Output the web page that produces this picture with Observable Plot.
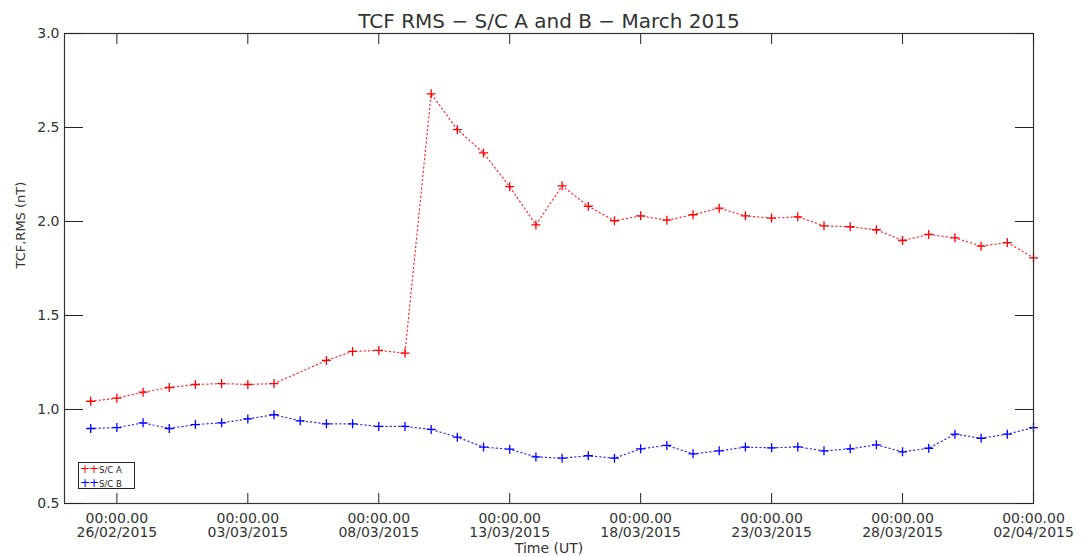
<!DOCTYPE html>
<html>
<head>
<meta charset="utf-8">
<script src="https://cdn.jsdelivr.net/npm/d3@7"></script>
<script src="https://cdn.jsdelivr.net/npm/@observablehq/plot@0.6"></script>
<style>
  html, body { margin: 0; padding: 0; background: #fff; }
  #wrap { position: relative; width: 1090px; height: 556px; }
  #legend {
    position: absolute; left: 78px; top: 462px; width: 57px; height: 27px;
    border: 1px solid #222; background: #fff;
    font: 8.5px "DejaVu Sans", sans-serif; color: #222; line-height: 13px;
    padding-left: 1px; box-sizing: border-box;
  }
  #legend .m { letter-spacing: -1px; font-size: 12px; margin-right: 1px; }
</style>
</head>
<body>
<div id="wrap">
  <div id="chart"></div>
  <div id="legend">
    <div><span class="m" style="color:#ff0000">++</span>S/C A</div>
    <div><span class="m" style="color:#0000ff">++</span>S/C B</div>
  </div>
</div>
<script>
// Daily TCF RMS values (nT), 25 Feb – 2 Apr 2015
const days = [
  "2015-02-25","2015-02-26","2015-02-27","2015-02-28","2015-03-01","2015-03-02","2015-03-03",
  "2015-03-04","2015-03-05","2015-03-06","2015-03-07","2015-03-08","2015-03-09","2015-03-10",
  "2015-03-11","2015-03-12","2015-03-13","2015-03-14","2015-03-15","2015-03-16","2015-03-17",
  "2015-03-18","2015-03-19","2015-03-20","2015-03-21","2015-03-22","2015-03-23","2015-03-24",
  "2015-03-25","2015-03-26","2015-03-27","2015-03-28","2015-03-29","2015-03-30","2015-03-31",
  "2015-04-01","2015-04-02"
];
// S/C A has no value on 5 March
const scA = [
  1.044, 1.060, 1.092, 1.117, 1.133, 1.138, 1.133,
  1.138, null,  1.261, 1.309, 1.314, 1.300, 2.679,
  2.489, 2.365, 2.185, 1.982, 2.190, 2.081, 2.004,
  2.030, 2.007, 2.036, 2.071, 2.030, 2.018, 2.025,
  1.977, 1.972, 1.956, 1.899, 1.931, 1.913, 1.869,
  1.888, 1.807
];
const scB = [
  0.899, 0.904, 0.929, 0.899, 0.920, 0.929, 0.950,
  0.972, 0.940, 0.924, 0.924, 0.910, 0.910, 0.894,
  0.853, 0.800, 0.789, 0.748, 0.741, 0.754, 0.741,
  0.791, 0.809, 0.764, 0.780, 0.800, 0.796, 0.801,
  0.780, 0.791, 0.812, 0.775, 0.794, 0.869, 0.847,
  0.869, 0.904
];
const xTickDays = ["2015-02-26","2015-03-03","2015-03-08","2015-03-13","2015-03-18","2015-03-23","2015-03-28","2015-04-02"];
const yTicks = [0.5, 1.0, 1.5, 2.0, 2.5, 3.0];
const xDomain = ["2015-02-24", "2015-04-02"];

const seriesA = days.map((d, i) => ({date: new Date(d), v: scA[i]})).filter(r => r.v != null);
const seriesB = days.map((d, i) => ({date: new Date(d), v: scB[i]}));

// "+" marker drawn as two strokes
const plus = {
  draw(ctx, size) {
    const r = Math.sqrt(size / Math.PI);
    ctx.moveTo(-r, 0); ctx.lineTo(r, 0);
    ctx.moveTo(0, -r); ctx.lineTo(0, r);
  }
};

const pad = n => String(n).padStart(2, "0");
const fmtDay = d => `00:00.00\n${pad(d.getUTCDate())}/${pad(d.getUTCMonth() + 1)}/${d.getUTCFullYear()}`;
const font = "DejaVu Sans, sans-serif";

const chart = Plot.plot({
  width: 1090,
  height: 556,
  marginTop: 33,
  marginBottom: 53,
  marginLeft: 64,
  marginRight: 57,
  style: {fontFamily: font, fontSize: "14px", color: "#222", background: "#fff"},
  x: {type: "utc", domain: xDomain.map(d => new Date(d))},
  y: {domain: [0.5, 3.0]},
  marks: [
    Plot.line(seriesA, {x: "date", y: "v", stroke: "#ff0000", strokeWidth: 1.2, strokeDasharray: "1.2,3", strokeOpacity: 0.85}),
    Plot.line(seriesB, {x: "date", y: "v", stroke: "#0000ff", strokeWidth: 1.2, strokeDasharray: "1.2,3", strokeOpacity: 0.85}),
    Plot.dot(seriesA, {x: "date", y: "v", symbol: plus, r: 4.5, stroke: "#ff0000", fill: "none", strokeWidth: 1.3}),
    Plot.dot(seriesB, {x: "date", y: "v", symbol: plus, r: 4.5, stroke: "#0000ff", fill: "none", strokeWidth: 1.3}),
    Plot.frame({stroke: "#333", strokeWidth: 1.2}),
    Plot.axisX({anchor: "bottom", ticks: xTickDays.map(d => new Date(d)), tickFormat: fmtDay,
      tickSize: -10, tickPadding: 20, lineHeight: 1, stroke: "#222", fill: "#333", label: null}),
    Plot.axisX({anchor: "top", ticks: xTickDays.map(d => new Date(d)), tickFormat: () => "",
      tickSize: -10, stroke: "#222", label: null}),
    Plot.axisY({anchor: "left", ticks: yTicks, tickFormat: d3.format(".1f"),
      tickSize: -19, tickPadding: 24, stroke: "#222", fill: "#333", label: null}),
    Plot.axisY({anchor: "right", ticks: yTicks, tickFormat: () => "",
      tickSize: -19, stroke: "#222", label: null}),
    Plot.text(["TCF RMS \u2212 S/C A and B \u2212 March 2015"], {text: d => d, frameAnchor: "top", dy: -20,
      fontSize: 20, fill: "#333"}),
    Plot.text(["Time (UT)"], {text: d => d, frameAnchor: "bottom", dy: 49, fontSize: 14, fill: "#333"}),
    Plot.text(["TCF,RMS (nT)"], {text: d => d, frameAnchor: "left", dx: -44, rotate: -90, fontSize: 13, fill: "#333"})
  ]
});
document.getElementById("chart").appendChild(chart);
</script>
</body>
</html>
